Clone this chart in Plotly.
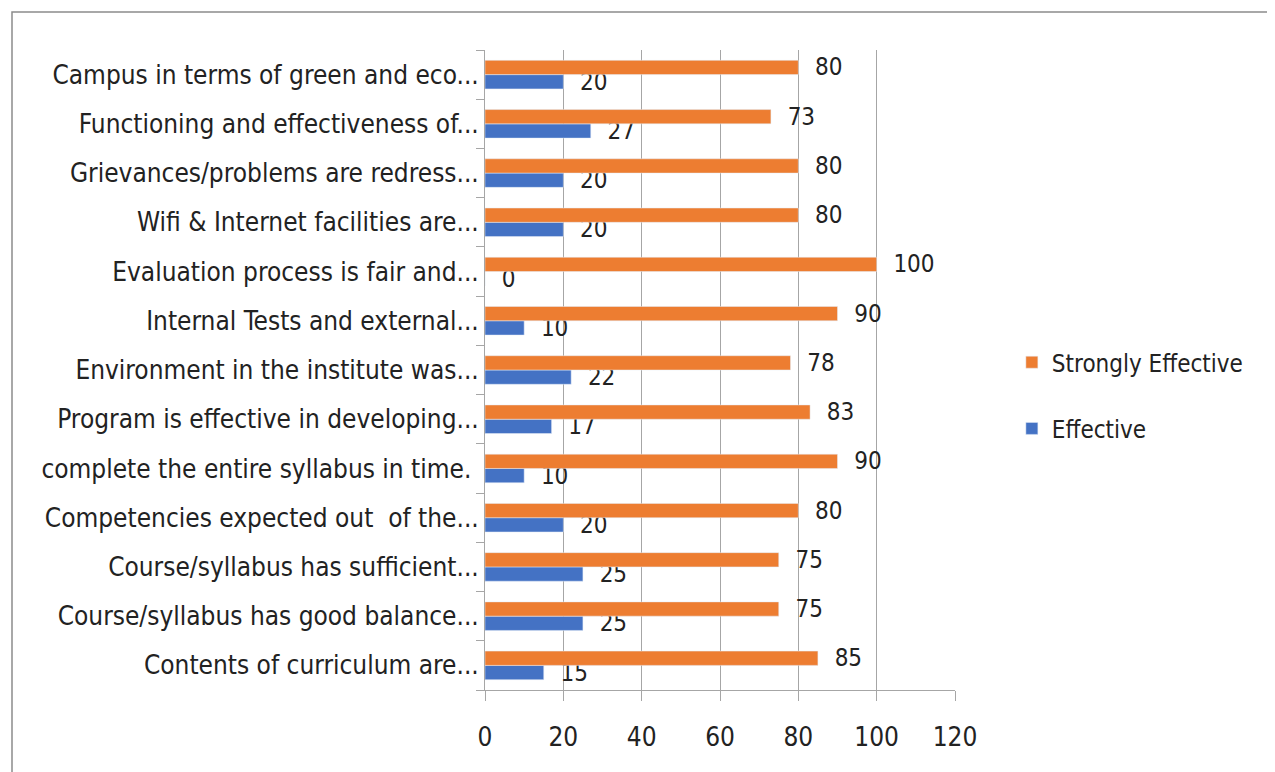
import plotly.graph_objects as go

categories = [
    "Contents of curriculum are...",
    "Course/syllabus has good balance...",
    "Course/syllabus has sufficient...",
    "Competencies expected out  of the...",
    "complete the entire syllabus in time. ",
    "Program is effective in developing...",
    "Environment in the institute was...",
    "Internal Tests and external...",
    "Evaluation process is fair and...",
    "Wifi & Internet facilities are...",
    "Grievances/problems are redress...",
    "Functioning and effectiveness of...",
    "Campus in terms of green and eco...",
]
effective = [15, 25, 25, 20, 10, 17, 22, 10, 0, 20, 20, 27, 20]
strongly_effective = [85, 75, 75, 80, 90, 83, 78, 90, 100, 80, 80, 73, 80]
x_ticks = [0, 20, 40, 60, 80, 100, 120]

FONT = "DejaVu Sans Condensed, Liberation Sans Narrow, Roboto, sans-serif"
W, H = 1275, 772
OFF = 8  # page body margin
L, R, T, B = 485 - OFF, 955 - OFF, 50 - OFF, 690 - OFF

fig = go.Figure()
fig.add_trace(go.Bar(
    y=categories, x=effective, orientation="h", name="Effective",
    marker=dict(color="#4472C4"), legendgroup="e", legendrank=2,
    text=effective, texttemplate="  %{x}", textposition="outside",
    constraintext="none",
    textfont=dict(family=FONT, size=24, color="#222222"), cliponaxis=False,
))
fig.add_trace(go.Bar(
    y=categories, x=strongly_effective, orientation="h", name="Strongly Effective",
    marker=dict(color="#ED7D31"), legendgroup="s", legendrank=1,
    text=strongly_effective, texttemplate="  %{x}", textposition="outside",
    constraintext="none",
    textfont=dict(family=FONT, size=24, color="#222222"), cliponaxis=False,
))

px = lambda x: (x - OFF - L) / (R - L)
py = lambda y: (B - (y - OFF)) / (B - T)

fig.update_layout(
    width=W, height=H,
    margin=dict(l=L, r=W - R, t=T, b=H - B, pad=0),
    paper_bgcolor="white", plot_bgcolor="white",
    barmode="group", bargap=0.42, bargroupgap=0,
    font=dict(family=FONT, size=24, color="#222222"),
    showlegend=True,
    legend=dict(
        x=1.121, y=0.46, xanchor="left", yanchor="middle",
        traceorder="grouped", tracegroupgap=32,
        font=dict(family=FONT, size=24, color="#222222"),
        itemwidth=30,
    ),
    xaxis=dict(
        range=[0, 120], tickvals=x_ticks, showgrid=True, gridcolor="#a6a6a6",
        gridwidth=1, showline=True, linecolor="#a6a6a6", ticks="outside",
        ticklen=10, tickcolor="#a6a6a6", zeroline=False, ticklabelstandoff=14,
        tickfont=dict(family=FONT, size=26, color="#222222"),
    ),
    yaxis=dict(
        type="category", categoryorder="array", categoryarray=categories,
        showline=True, linecolor="#a6a6a6", ticks="outside", ticklen=8,
        tickcolor="#a6a6a6", tickson="boundaries", showgrid=False,
        tickfont=dict(family=FONT, size=26, color="#222222"),
    ),
    shapes=[dict(
        type="rect", xref="paper", yref="paper",
        x0=px(12), x1=px(1300), y0=py(800), y1=py(12),
        line=dict(color="#8c8c8c", width=1.5), fillcolor="rgba(0,0,0,0)",
        layer="below",
    )],
)

fig.write_html("out.html")
